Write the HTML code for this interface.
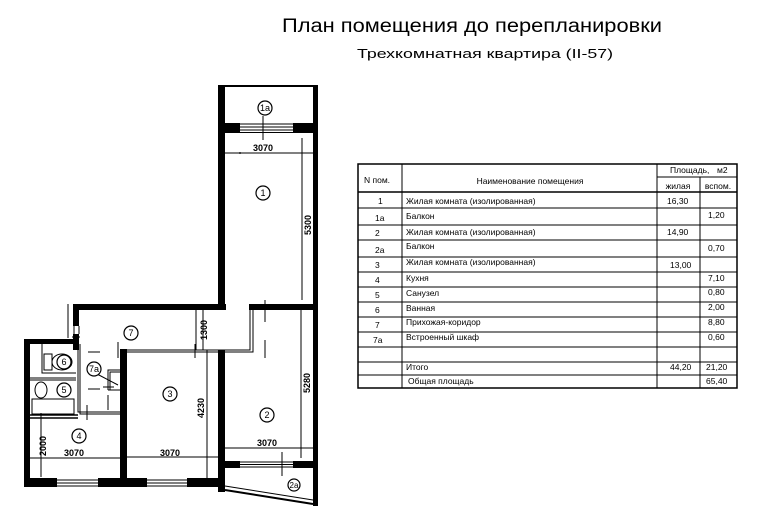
<!DOCTYPE html>
<html><head><meta charset="utf-8"><style>
html,body{margin:0;padding:0;background:#fff}
svg{display:block}
text{font-family:"Liberation Sans",sans-serif;fill:#000}
</style></head><body>
<svg width="770" height="531" viewBox="0 0 770 531" xmlns="http://www.w3.org/2000/svg">
<rect width="770" height="531" fill="#fff"/>
<!-- titles -->
<text x="472" y="32" font-size="19" text-anchor="middle" textLength="380" lengthAdjust="spacingAndGlyphs">План помещения до перепланировки</text>
<text x="485" y="58" font-size="13" text-anchor="middle" textLength="256" lengthAdjust="spacingAndGlyphs">Трехкомнатная квартира (II-57)</text>

<!-- PLAN walls -->
<g fill="#000">
<!-- balcony 1a -->
<rect x="218" y="85" width="100" height="2"/>
<rect x="218" y="85" width="7" height="221"/>
<rect x="313" y="85" width="5" height="421"/>
<rect x="218" y="123" width="22" height="10"/>
<rect x="293" y="123" width="25" height="10"/>
<!-- corridor top wall -->
<rect x="73" y="304" width="153" height="6"/>
<rect x="249" y="304" width="69" height="6"/>
<!-- corridor left wall -->
<rect x="73" y="304" width="6" height="22"/>
<rect x="73" y="334" width="6" height="16"/>
<!-- bath top -->
<rect x="24" y="339" width="55" height="5"/>
<rect x="24" y="339" width="6" height="148"/>
<!-- room 3 left wall / top -->
<rect x="120" y="349" width="7" height="138"/>
<rect x="120" y="349" width="6" height="3"/>
<!-- room2/3 wall -->
<rect x="218" y="350" width="7" height="142"/>
<!-- bottom wall -->
<rect x="24" y="478" width="33" height="9"/>
<rect x="98" y="478" width="49" height="9"/>
<rect x="187" y="478" width="38" height="9"/>
<!-- room2 bottom window wall -->
<rect x="218" y="461" width="22" height="7"/>
<rect x="293" y="461" width="25" height="7"/>
</g>
<g stroke="#000" fill="none" stroke-width="1">
<!-- windows -->
<path d="M240 124H293M240 127H293M240 130H293M240 132.5H293"/>
<path d="M240 462H293M240 464.5H293M240 467H293"/>
<path d="M57 480H98M57 483H98M57 486H98"/>
<path d="M147 480H187M147 483H187M147 486H187"/>
<!-- balcony 2a slant -->
<path d="M225 490L313 504" stroke-width="2"/>
<path d="M225 486L313 500"/>
<!-- door window hatch -->
<path d="M263 116V140M282 475V457M282 452V476"/>
<!-- corridor partitions -->
<path d="M127 350H250V310M127 352H253V310" />
<path d="M74 326V334M79 326V334"/>
<!-- bath partitions -->
<path d="M78 344V412H120M80 344V414H120"/>
<path d="M30 378H76M30 380H76"/>
<path d="M30 415H78M30 418H78" stroke-width="1.5"/>
<path d="M42 344V373H76"/>
<!-- toilet -->
<ellipse cx="62" cy="362" rx="10" ry="8"/>
<rect x="44" y="354" width="8" height="16"/>
<!-- sink/bath -->
<ellipse cx="41" cy="390" rx="6" ry="8"/>
<rect x="32" y="399" width="42" height="15"/>
<!-- closet 7a -->
<path d="M108 390V370H120M110 390V372H120M108 390H120M108 410V395"/>
<path d="M97 374L118 385"/>
<!-- door ticks -->
<path d="M118 342V358M195 344V358M265 300V322M265 340V358M87 405V420M68 304L68 338M88 352H100M88 389H100M103 387H114M72 337H80"/>
<!-- dimension lines -->
<path d="M225 153H313M302 138V300M240 152L240 154"/>
<path d="M225 448H313M301 310V458"/>
<path d="M207 350V478M127 457H218"/>
<path d="M30 458H120M41 413V477"/>
<path d="M196 310V350M203 310V350"/>
</g>
<g font-size="9" font-weight="bold">
<text x="263" y="151" text-anchor="middle">3070</text>
<text x="267" y="446" text-anchor="middle">3070</text>
<text x="170" y="456" text-anchor="middle">3070</text>
<text x="74" y="456" text-anchor="middle">3070</text>
<text transform="translate(311,225) rotate(-90)" text-anchor="middle">5300</text>
<text transform="translate(310,383) rotate(-90)" text-anchor="middle">5280</text>
<text transform="translate(204,408) rotate(-90)" text-anchor="middle">4230</text>
<text transform="translate(207,330) rotate(-90)" text-anchor="middle">1300</text>
<text transform="translate(46,446) rotate(-90)" text-anchor="middle">2000</text>
</g>
<!-- room circles -->
<g stroke="#000" fill="#fff" stroke-width="1.2">
<circle cx="265" cy="108" r="7"/><circle cx="263" cy="193" r="7"/>
<circle cx="131" cy="333" r="7"/><circle cx="64" cy="362" r="7"/>
<circle cx="94" cy="369" r="7"/><circle cx="64" cy="390" r="7"/>
<circle cx="170" cy="394" r="7"/><circle cx="79" cy="436" r="7"/>
<circle cx="267" cy="415" r="7"/><circle cx="294" cy="485" r="6"/>
</g>
<g font-size="9" text-anchor="middle">
<text x="265" y="111">1a</text><text x="263" y="196">1</text>
<text x="131" y="336">7</text><text x="64" y="365">6</text>
<text x="94" y="372">7a</text><text x="64" y="393">5</text>
<text x="170" y="397">3</text><text x="79" y="439">4</text>
<text x="267" y="418">2</text><text x="294" y="488" font-size="8">2a</text>
</g>

<!-- TABLE -->
<g stroke="#000" fill="none">
<rect x="358" y="164" width="379" height="224" stroke-width="1.5"/>
<path d="M402 164V388M657 164V388M700 177V388M657 177H737"/>
<path d="M358 192H737" stroke-width="1.5"/>
<path d="M358 208H737M358 225H737M358 240H737M358 257H737M358 272H737M358 287H737M358 302H737M358 317H737M358 332H737M358 347H737M358 362H737M358 375H737"/>
</g>
<g font-size="8.5">
<text x="364" y="183">N пом.</text>
<text x="530" y="184" text-anchor="middle">Наименование помещения</text>
<text x="670" y="173">Площадь,</text><text x="717" y="173">м2</text>
<text x="678" y="189" text-anchor="middle">жилая</text>
<text x="718" y="189" text-anchor="middle">вспом.</text>
</g>
<g font-size="8.5">
<text x="378" y="204">1</text><text x="406" y="204">Жилая комната (изолированная)</text><text x="667" y="204">16,30</text>
<text x="375" y="221">1a</text><text x="406" y="219">Балкон</text><text x="708" y="218">1,20</text>
<text x="375" y="236">2</text><text x="406" y="235">Жилая комната (изолированная)</text><text x="667" y="235">14,90</text>
<text x="375" y="253">2a</text><text x="406" y="249">Балкон</text><text x="708" y="251">0,70</text>
<text x="375" y="268">3</text><text x="406" y="265">Жилая комната (изолированная)</text><text x="670" y="268">13,00</text>
<text x="375" y="283">4</text><text x="406" y="281">Кухня</text><text x="708" y="281">7,10</text>
<text x="375" y="298">5</text><text x="406" y="296">Санузел</text><text x="708" y="295">0,80</text>
<text x="375" y="313">6</text><text x="406" y="311">Ванная</text><text x="708" y="310">2,00</text>
<text x="375" y="328">7</text><text x="406" y="325">Прихожая-коридор</text><text x="708" y="325">8,80</text>
<text x="373" y="343">7a</text><text x="406" y="340">Встроенный шкаф</text><text x="708" y="340">0,60</text>
<text x="406" y="370">Итого</text><text x="670" y="370">44,20</text><text x="706" y="370">21,20</text>
<text x="408" y="384">Общая площадь</text><text x="706" y="384">65,40</text>
</g>
</svg>
</body></html>
